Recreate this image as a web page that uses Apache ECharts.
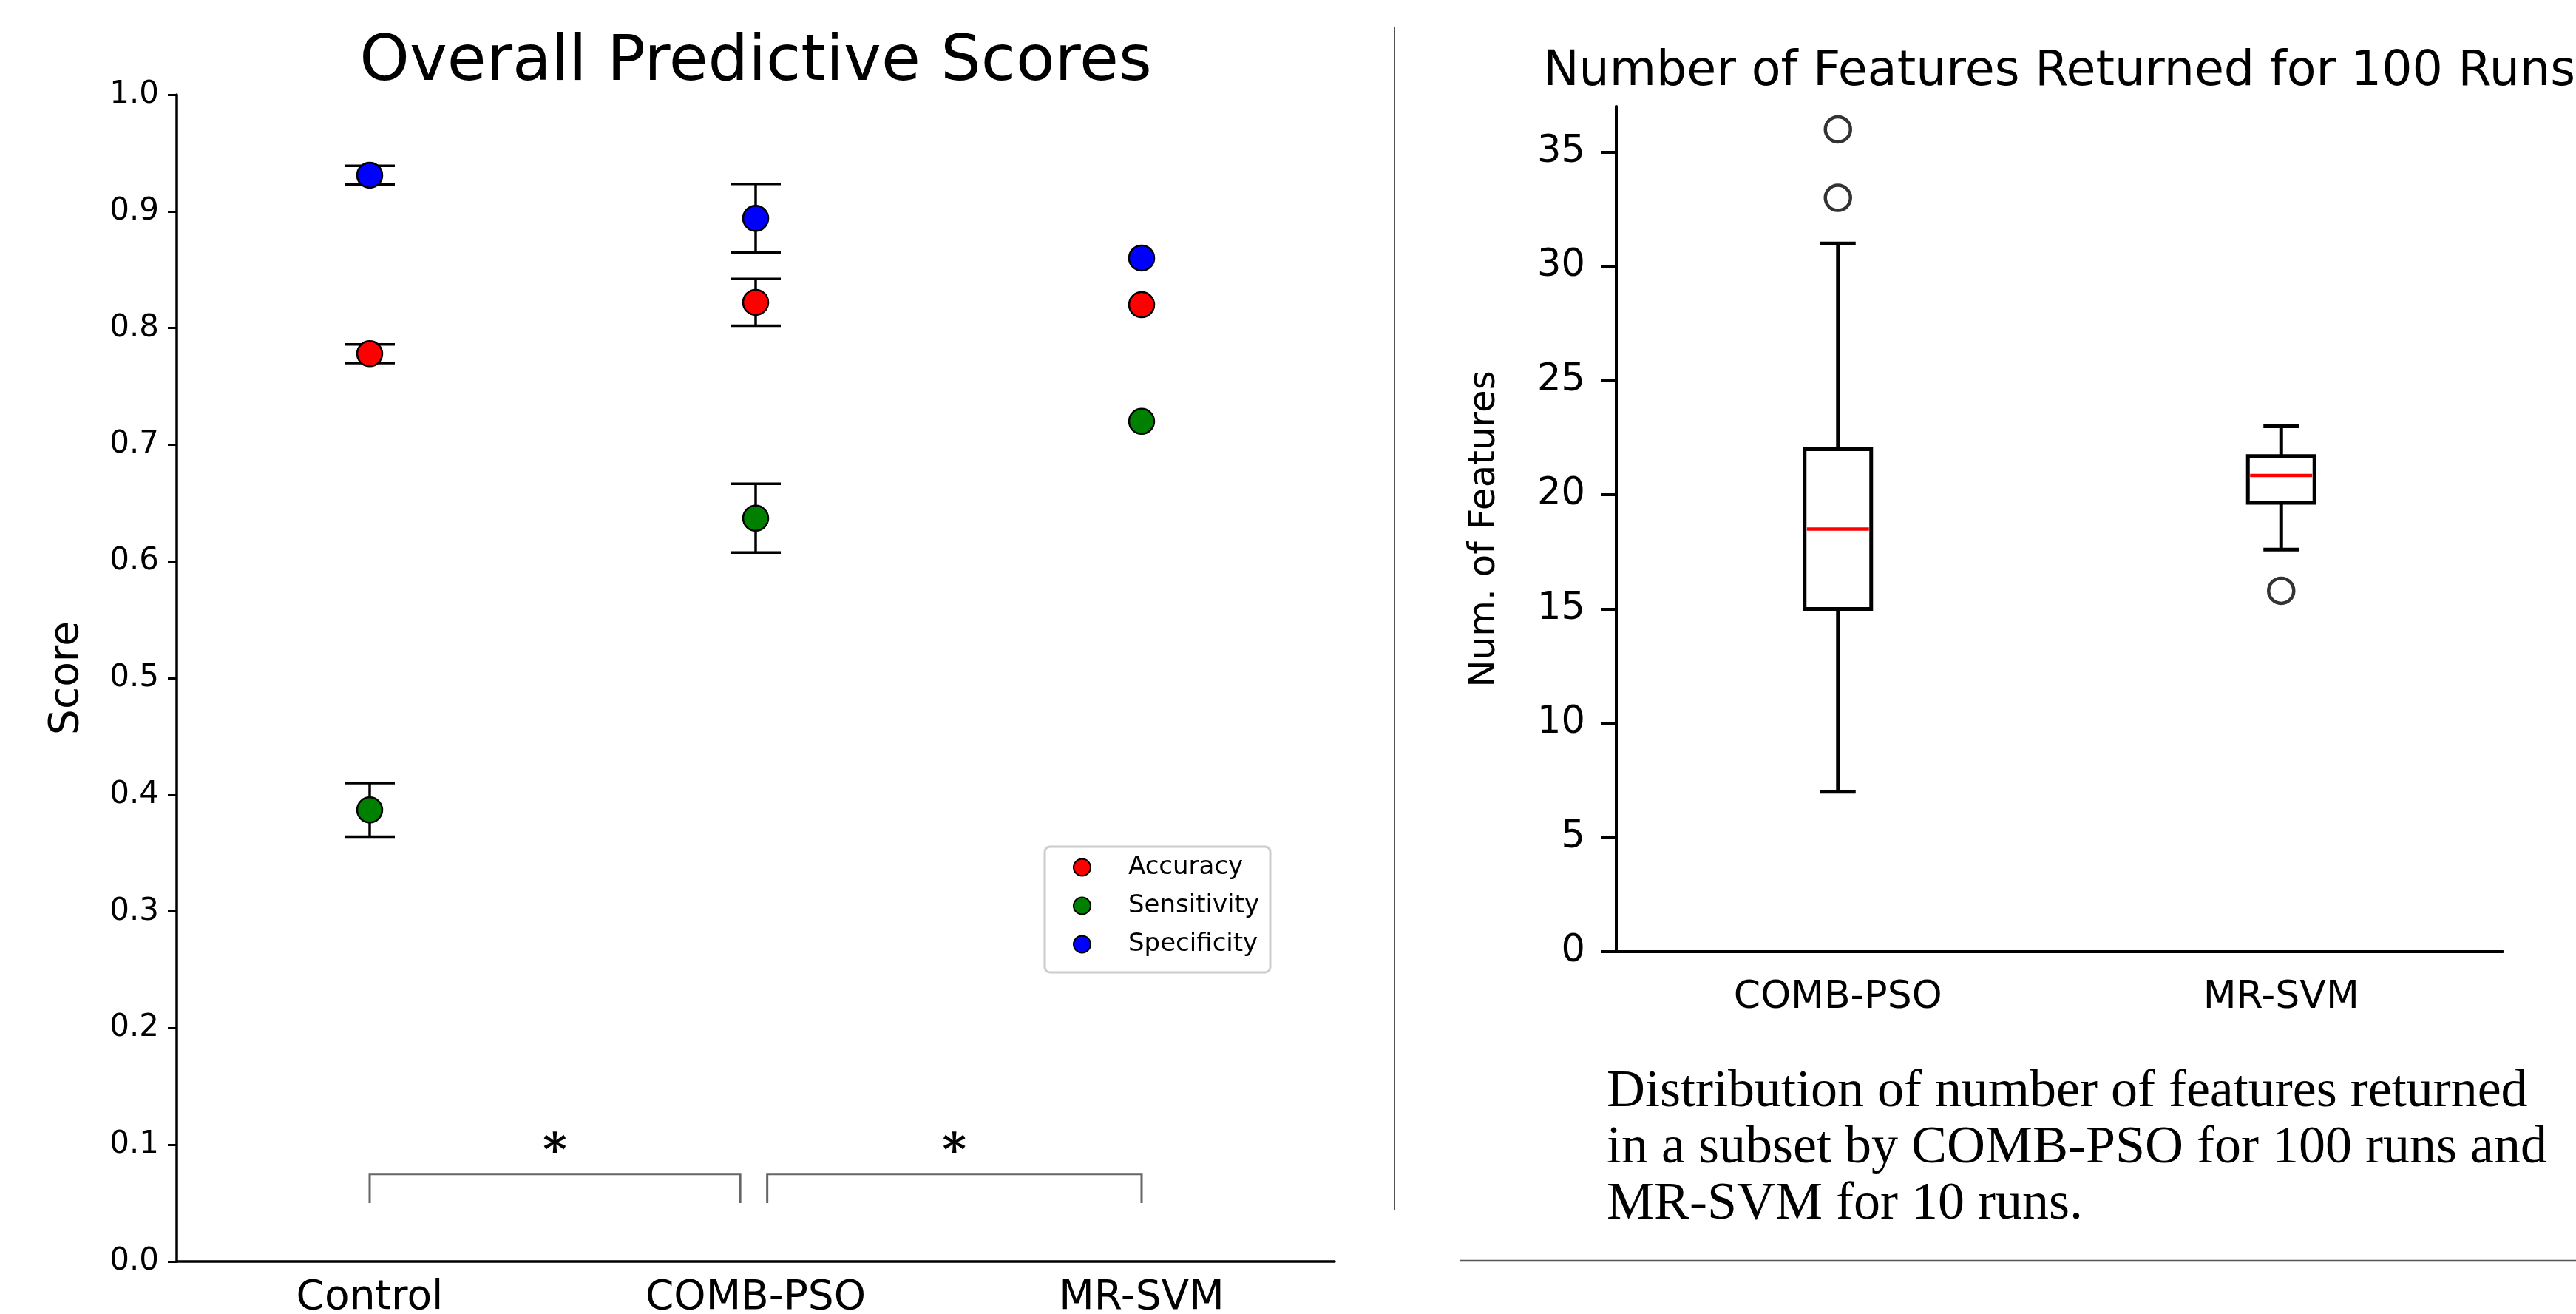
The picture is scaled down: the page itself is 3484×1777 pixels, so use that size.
<!DOCTYPE html>
<html><head><meta charset="utf-8">
<script src="https://cdn.jsdelivr.net/npm/echarts@6/dist/echarts.min.js"></script>
<style>html,body{margin:0;padding:0;background:#fff;} #c{width:3484px;height:1777px;}</style>
</head><body><div id="c"></div>
<script>
// ---- Left panel: overall predictive scores ----
const methods = ['Control', 'COMB-PSO', 'MR-SVM'];
const accuracy = [0.778, 0.822, 0.820];
const accuracyErr = [0.008, 0.020, null];
const sensitivity = [0.387, 0.637, 0.720];
const sensitivityErr = [0.023, 0.0295, null];
const specificity = [0.931, 0.894, 0.860];
const specificityErr = [0.008, 0.0295, null];
const scoreTicks = [0, 0.1, 0.2, 0.3, 0.4, 0.5, 0.6, 0.7, 0.8, 0.9, 1.0];
// significance brackets: [xStart, xEnd, yTop, yBottom] in category-index units
const brackets = [[0, 0.96, 0.075, 0.05], [1.03, 2.0, 0.075, 0.05]];
const bracketMarks = ['*', '*'];
const markY = 0.1;

// ---- Right panel: number of features ----
const boxCategories = ['COMB-PSO', 'MR-SVM'];
// [min whisker, Q1, median, Q3, max whisker]
const boxStats = [[7, 15, 18.5, 22, 31], [17.6, 19.65, 20.85, 21.7, 23]];
const boxOutliers = [[0, 36], [0, 33], [1, 15.8]];
const featureTicks = [0, 5, 10, 15, 20, 25, 30, 35];
const captionLines = [
  'Distribution of number of features returned',
  'in a subset by COMB-PSO for 100 runs and',
  'MR-SVM for 10 runs.'
];

const FONT = '"DejaVu Sans", sans-serif';
const chart = echarts.init(document.getElementById('c'), null, {renderer: 'canvas'});

const metricDefs = [
  {name: 'Accuracy', vals: accuracy, err: accuracyErr, color: '#ff0000'},
  {name: 'Sensitivity', vals: sensitivity, err: sensitivityErr, color: '#008000'},
  {name: 'Specificity', vals: specificity, err: specificityErr, color: '#0000ff'}
];

const errData = [];
metricDefs.forEach(m => m.vals.forEach((v, i) => {
  if (m.err[i] != null) errData.push([i, v - m.err[i], v + m.err[i]]);
}));

const scatterSeries = metricDefs.map(m => ({
  name: m.name, type: 'scatter', xAxisIndex: 0, yAxisIndex: 0,
  data: m.vals.map((v, i) => [i, v]),
  symbol: 'circle', symbolSize: 34, z: 5,
  itemStyle: {color: m.color, borderColor: '#000', borderWidth: 2.5, opacity: 1},
  emphasis: {disabled: true}
}));

const option = {
  animation: false,
  backgroundColor: '#fff',
  textStyle: {fontFamily: FONT},
  grid: [
    {left: 239, right: 1679, top: 128, bottom: 71, containLabel: false, outerBoundsMode: 'none'},
    {left: 2186, right: 99, top: 144, bottom: 490, containLabel: false, outerBoundsMode: 'none'}
  ],
  legend: {
    data: metricDefs.map(m => m.name),
    orient: 'vertical', left: 1413, top: 1145,
    padding: [11, 15, 21, 38], itemGap: 18,
    itemWidth: 23, itemHeight: 23, icon: 'circle',
    borderColor: '#cccccc', borderWidth: 3, borderRadius: 7,
    backgroundColor: '#fff',
    textStyle: {fontFamily: FONT, fontSize: 34, color: '#000', lineHeight: 34, padding: [0, 0, 0, 46]}
  },
  xAxis: [
    {type: 'category', gridIndex: 0, data: methods, boundaryGap: true,
     axisLine: {onZero: false, lineStyle: {color: '#000', width: 3.5}},
     axisTick: {alignWithLabel: true, length: 12, lineStyle: {color: '#000', width: 3}},
     axisLabel: {fontFamily: FONT, fontSize: 55, color: '#000', margin: 22},
     splitLine: {show: false}},
    {type: 'value', gridIndex: 0, min: -0.5, max: 2.5, show: false,
     axisLine: {onZero: false}},
    {type: 'category', gridIndex: 1, data: boxCategories, boundaryGap: true,
     axisLine: {onZero: false, lineStyle: {color: '#000', width: 4}},
     axisTick: {alignWithLabel: true, length: 20, lineStyle: {color: '#000', width: 4}},
     axisLabel: {fontFamily: FONT, fontSize: 52, color: '#000', margin: 36},
     splitLine: {show: false}}
  ],
  yAxis: [
    {type: 'value', gridIndex: 0, min: 0, max: 1,
     name: 'Score', nameLocation: 'middle', nameRotate: 90, nameGap: 121,
     nameTextStyle: {fontFamily: FONT, fontSize: 55, color: '#000'},
     axisLine: {show: true, onZero: false, lineStyle: {color: '#000', width: 3.5}},
     axisTick: {show: true, length: 12, customValues: scoreTicks, lineStyle: {color: '#000', width: 3}},
     axisLabel: {fontFamily: FONT, fontSize: 42, color: '#000', margin: 24, customValues: scoreTicks,
                 formatter: v => v.toFixed(1)},
     splitLine: {show: false}},
    {type: 'value', gridIndex: 1, min: 0, max: 37,
     name: 'Num. of Features', nameLocation: 'middle', nameRotate: 90, nameGap: 153,
     nameTextStyle: {fontFamily: FONT, fontSize: 50, color: '#000'},
     axisLine: {show: true, onZero: false, lineStyle: {color: '#000', width: 4}},
     axisTick: {show: true, length: 20, customValues: featureTicks, lineStyle: {color: '#000', width: 4}},
     axisLabel: {fontFamily: FONT, fontSize: 51, color: '#000', margin: 42, customValues: featureTicks},
     splitLine: {show: false}}
  ],
  graphic: [
    {type: 'text', x: 1022, y: 86, style: {text: 'Overall Predictive Scores', font: '86px ' + FONT, fill: '#000', align: 'center', verticalAlign: 'middle'}},
    {type: 'text', x: 2785, y: 98, style: {text: 'Number of Features Returned for 100 Runs', font: '65px ' + FONT, fill: '#000', align: 'center', verticalAlign: 'middle'}},
    {type: 'line', shape: {x1: 1886, y1: 37, x2: 1886, y2: 1637}, style: {stroke: '#555', lineWidth: 2}},
    {type: 'line', shape: {x1: 1975, y1: 1705, x2: 3484, y2: 1705}, style: {stroke: '#555', lineWidth: 2.5}}
  ].concat(captionLines.map((t, i) => ({
    type: 'text', x: 2173, y: 1477 + i * 76,
    style: {text: t, font: '72px "Liberation Serif", serif', fill: '#000', align: 'left', verticalAlign: 'middle'}
  }))),
  series: [
    {
      type: 'custom', name: 'errorbars', xAxisIndex: 0, yAxisIndex: 0, z: 3,
      data: errData, encode: {x: 0, y: [1, 2]}, silent: true,
      renderItem: function (params, api) {
        const lo = api.coord([api.value(0), api.value(1)]);
        const hi = api.coord([api.value(0), api.value(2)]);
        const hw = 34;
        const st = {stroke: '#000', lineWidth: 3.5};
        return {type: 'group', children: [
          {type: 'line', shape: {x1: lo[0], y1: lo[1], x2: hi[0], y2: hi[1]}, style: st},
          {type: 'line', shape: {x1: lo[0] - hw, y1: lo[1], x2: lo[0] + hw, y2: lo[1]}, style: st},
          {type: 'line', shape: {x1: hi[0] - hw, y1: hi[1], x2: hi[0] + hw, y2: hi[1]}, style: st}
        ]};
      }
    },
    ...scatterSeries,
    {
      type: 'custom', name: 'brackets', xAxisIndex: 1, yAxisIndex: 0, z: 2, silent: true,
      data: brackets, encode: {x: [0, 1], y: [2, 3]},
      renderItem: function (params, api) {
        const x1 = api.value(0), x2 = api.value(1), yt = api.value(2), yb = api.value(3);
        const pts = [api.coord([x1, yb]), api.coord([x1, yt]), api.coord([x2, yt]), api.coord([x2, yb])];
        return {type: 'polyline', shape: {points: pts}, style: {stroke: '#666', lineWidth: 3, fill: null}};
      }
    },
    {
      type: 'custom', name: 'marks', xAxisIndex: 1, yAxisIndex: 0, z: 2, silent: true,
      data: brackets.map((b, i) => [(b[0] + b[1]) / 2, markY, bracketMarks[i]]),
      encode: {x: 0, y: 1},
      renderItem: function (params, api) {
        const p = api.coord([api.value(0), api.value(1)]);
        return {type: 'text', x: p[0], y: p[1] + 12,
          style: {text: bracketMarks[params.dataIndex], font: 'bold 62px "DejaVu Serif", serif', fill: '#000', align: 'center', verticalAlign: 'middle'}};
      }
    },
    {
      type: 'custom', name: 'boxes', xAxisIndex: 2, yAxisIndex: 1, z: 3, silent: true,
      data: boxStats.map((s, i) => [i].concat(s)),
      encode: {x: 0, y: [1, 2, 3, 4, 5]},
      renderItem: function (params, api) {
        const i = api.value(0);
        const pMin = api.coord([i, api.value(1)]);
        const pQ1 = api.coord([i, api.value(2)]);
        const pMed = api.coord([i, api.value(3)]);
        const pQ3 = api.coord([i, api.value(4)]);
        const pMax = api.coord([i, api.value(5)]);
        const cx = pMin[0], bw = 45, cw = 24;
        const st = {stroke: '#000', lineWidth: 5, fill: null};
        return {type: 'group', children: [
          {type: 'line', shape: {x1: cx, y1: pQ3[1], x2: cx, y2: pMax[1]}, style: st},
          {type: 'line', shape: {x1: cx, y1: pQ1[1], x2: cx, y2: pMin[1]}, style: st},
          {type: 'line', shape: {x1: cx - cw, y1: pMax[1], x2: cx + cw, y2: pMax[1]}, style: st},
          {type: 'line', shape: {x1: cx - cw, y1: pMin[1], x2: cx + cw, y2: pMin[1]}, style: st},
          {type: 'rect', shape: {x: cx - bw, y: pQ3[1], width: 2 * bw, height: pQ1[1] - pQ3[1]}, style: st},
          {type: 'line', shape: {x1: cx - bw + 3, y1: pMed[1], x2: cx + bw - 3, y2: pMed[1]}, style: {stroke: '#ff0000', lineWidth: 4.5}}
        ]};
      }
    },
    {
      type: 'scatter', name: 'outliers', xAxisIndex: 2, yAxisIndex: 1, z: 3, silent: true,
      data: boxOutliers, symbol: 'circle', symbolSize: 34,
      itemStyle: {color: 'rgba(255,255,255,0)', borderColor: '#000', borderWidth: 4.5}
    }
  ]
};
chart.setOption(option);
</script>
</body></html>
